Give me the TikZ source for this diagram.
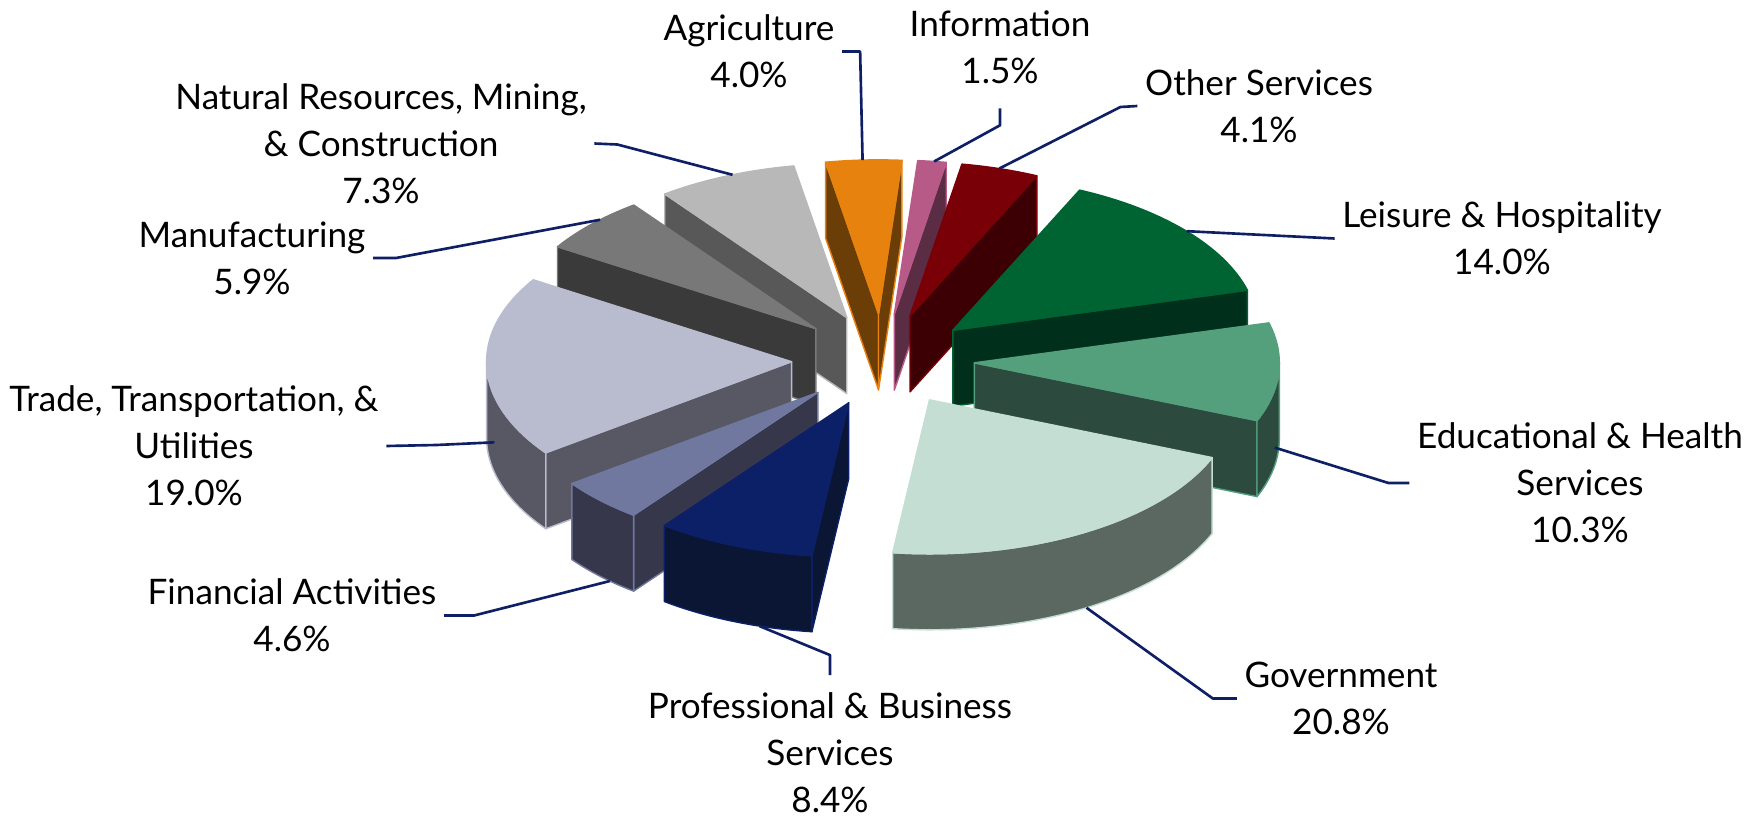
\documentclass[tikz,border=0pt]{standalone}
\usepackage{fontspec}
\setmainfont{Lato}
\usetikzlibrary{calc}

\definecolor{AgriTop}{HTML}{E8820E}   \definecolor{AgriSide}{HTML}{6B3E07}
\definecolor{InfoTop}{HTML}{B85A88}   \definecolor{InfoSide}{HTML}{5B2D44}
\definecolor{OtherTop}{HTML}{7A0008}  \definecolor{OtherSide}{HTML}{3C0004}
\definecolor{LeisTop}{HTML}{006432}   \definecolor{LeisSide}{HTML}{00301B}
\definecolor{EduTop}{HTML}{54A07D}    \definecolor{EduSide}{HTML}{2C4B3E}
\definecolor{GovTop}{HTML}{C4DED4}    \definecolor{GovSide}{HTML}{5B6862}
\definecolor{ProfTop}{HTML}{0C2068}   \definecolor{ProfSide}{HTML}{0A1634}
\definecolor{FinTop}{HTML}{70789F}    \definecolor{FinSide}{HTML}{36374B}
\definecolor{TradeTop}{HTML}{B9BBCE}  \definecolor{TradeSide}{HTML}{585864}
\definecolor{ManuTop}{HTML}{787878}   \definecolor{ManuSide}{HTML}{3A3A3A}
\definecolor{NatTop}{HTML}{B8B8B8}    \definecolor{NatSide}{HTML}{585858}
\definecolor{LeadBlue}{HTML}{0E1F66}

% faces of one slice (radius 1 in the tilted x/y of the pie scope)
\def\topface[#1](#2:#3){\filldraw[#1] (0,0) -- (#2:1) arc[start angle=#2, end angle=#3, radius=1] -- cycle;}
\def\cutface[#1](#2){\filldraw[#1] (0,0) -- (#2:1) -- ([yshift=-7.6mm]#2:1) -- (0,-7.6mm) -- cycle;}
\def\rimface[#1](#2:#3){\filldraw[#1] (#2:1) arc[start angle=#2, end angle=#3, radius=1] -- ++(0,-7.6mm) arc[start angle=#3, end angle=#2, radius=1] -- cycle;}

\tikzset{
  face/.style={line width=0.4pt, line join=round},
  agri top/.style={face, fill=AgriTop, draw=AgriTop},
  agri side/.style={face, fill=AgriSide, draw=AgriTop},
  info top/.style={face, fill=InfoTop, draw=InfoTop},
  info side/.style={face, fill=InfoSide, draw=InfoTop},
  other top/.style={face, fill=OtherTop, draw=OtherTop},
  other side/.style={face, fill=OtherSide, draw=OtherTop},
  leis top/.style={face, fill=LeisTop, draw=LeisTop},
  leis side/.style={face, fill=LeisSide, draw=LeisTop},
  edu top/.style={face, fill=EduTop, draw=EduTop},
  edu side/.style={face, fill=EduSide, draw=EduTop},
  gov top/.style={face, fill=GovTop, draw=GovTop},
  gov side/.style={face, fill=GovSide, draw=GovTop},
  prof top/.style={face, fill=ProfTop, draw=ProfTop},
  prof side/.style={face, fill=ProfSide, draw=ProfTop},
  fin top/.style={face, fill=FinTop, draw=FinTop},
  fin side/.style={face, fill=FinSide, draw=FinTop},
  trade top/.style={face, fill=TradeTop, draw=TradeTop},
  trade side/.style={face, fill=TradeSide, draw=TradeTop},
  manu top/.style={face, fill=ManuTop, draw=ManuTop},
  manu side/.style={face, fill=ManuSide, draw=ManuTop},
  nat top/.style={face, fill=NatTop, draw=NatTop},
  nat side/.style={face, fill=NatSide, draw=NatTop},
}

\begin{document}
\begin{tikzpicture}[
    lbl/.style={align=center, inner sep=2pt, font=\fontsize{10}{13.4}\selectfont},
    leader/.style={draw=LeadBlue, line width=0.75pt, line join=round}]
  \useasboundingbox (0,0) rectangle (17.52,8.16);

  %%%%% PIE %%%%%
  \begin{scope}[xshift=8.83cm, yshift=4.56cm, x={(3.05cm,0cm)}, y={(0cm,1.54cm)}]
    % back slices first
    \begin{scope}[shift={(92.8:0.3)}]
      \cutface[agri side](100)
      \cutface[agri side](85.6)
      \topface[agri top](100:85.6)
      \coordinate (agri-pt) at (93:1);
    \end{scope}
    \begin{scope}[shift={(82.9:0.3)}]
      \cutface[info side](80.2)
      \topface[info top](85.6:80.2)
      \coordinate (info-pt) at (82.5:1);
    \end{scope}
    \begin{scope}[shift={(72.82:0.3)}]
      \cutface[other side](65.44)
      \topface[other top](80.2:65.44)
      \coordinate (other-pt) at (73:1);
    \end{scope}
    \begin{scope}[shift={(113.32:0.3)}]
      \cutface[nat side](126.64)
      \topface[nat top](126.64:100)
      \coordinate (nat-pt) at (112:1);
    \end{scope}
    \begin{scope}[shift={(137.26:0.3)}]
      \cutface[manu side](147.88)
      \topface[manu top](147.88:126.64)
      \coordinate (manu-pt) at (135:1);
    \end{scope}
    \begin{scope}[shift={(40.24:0.3)}]
      \cutface[leis side](15.04)
      \topface[leis top](65.44:15.04)
      \coordinate (leis-pt) at (40:1);
    \end{scope}
    \begin{scope}[shift={(-177.92:0.3)}]
      \cutface[trade side](-143.72)
      \rimface[trade side](-143.72:-180)
      \topface[trade top](-143.72:-212.12)
      \coordinate (trade-pt) at ([yshift=-4.6mm]-167:1);
    \end{scope}
    \begin{scope}[shift={(-3.5:0.3)}]
      \cutface[edu side](-22.04)
      \rimface[edu side](0:-22.04)
      \topface[edu top](15.04:-22.04)
      \coordinate (edu-pt) at ([yshift=-5.8mm]-10:1);
    \end{scope}
    \begin{scope}[shift={(-135.44:0.3)}]
      \cutface[fin side](-127.16)
      \rimface[fin side](-127.16:-143.72)
      \topface[fin top](-127.16:-143.72)
      \coordinate (fin-pt) at ([yshift=-7.6mm]-133:1);
    \end{scope}
    \begin{scope}[shift={(-59.48:0.3)}]
      \rimface[gov side](-22.04:-96.92)
      \topface[gov top](-22.04:-96.92)
      \coordinate (gov-pt) at ([yshift=-7.6mm]-59:1);
    \end{scope}
    \begin{scope}[shift={(-112.04:0.3)}]
      \cutface[prof side](-96.92)
      \rimface[prof side](-96.92:-127.16)
      \topface[prof top](-96.92:-127.16)
      \coordinate (prof-pt) at ([yshift=-7.6mm]-107:1);
    \end{scope}
  \end{scope}

  %%%%% LABELS %%%%%
  \node[lbl] (agri) at (7.49,7.645) {Agriculture\\4.0\%};
  \node[lbl] (info) at (10.00,7.69) {Information\\1.5\%};
  \node[lbl] (other) at (12.59,7.10) {Other Services\\4.1\%};
  \node[lbl] (nat) at (3.81,6.725) {Natural Resources, Mining,\\\& Construction\\7.3\%};
  \node[lbl] (manu) at (2.52,5.58) {Manufacturing\\5.9\%};
  \node[lbl] (leis) at (15.02,5.775) {Leisure \& Hospitality\\14.0\%};
  \node[lbl] (edu) at (15.80,3.33) {Educational \& Health\\Services\\10.3\%};
  \node[lbl] (gov) at (13.41,1.175) {Government\\20.8\%};
  \node[lbl] (prof) at (8.30,0.63) {Professional \& Business\\Services\\8.4\%};
  \node[lbl] (fin) at (2.92,2.005) {Financial Activities\\4.6\%};
  \node[lbl] (trade) at (1.94,3.70) {Trade, Transportation, \&\\Utilities\\19.0\%};

  %%%%% LEADERS %%%%%
  \draw[leader] (agri.east) -- ++(0.18,0) -- (agri-pt);
  \draw[leader] ([yshift=-0.17cm]info.south) -- ++(0,-0.17) -- (info-pt);
  \draw[leader] (other.west) -- ++(-0.17,-0.01) -- (other-pt);
  \draw[leader] (nat.east) -- ++(0.23,-0.01) -- (nat-pt);
  \draw[leader] (manu.east) -- ++(0.23,0) -- (manu-pt);
  \draw[leader] (leis.west) -- (leis-pt);
  \draw[leader] (edu.west) -- ++(-0.21,0) -- (edu-pt);
  \draw[leader] (gov.west) -- ++(-0.24,0) -- (gov-pt);
  \draw[leader] ([yshift=0.1cm]prof.north) -- ++(0,0.2) -- (prof-pt);
  \draw[leader] (fin.east) -- ++(0.3,0) -- (fin-pt);
  \draw[leader] (trade.east) -- ++(0.5,0.01) -- (trade-pt);
\end{tikzpicture}
\end{document}
